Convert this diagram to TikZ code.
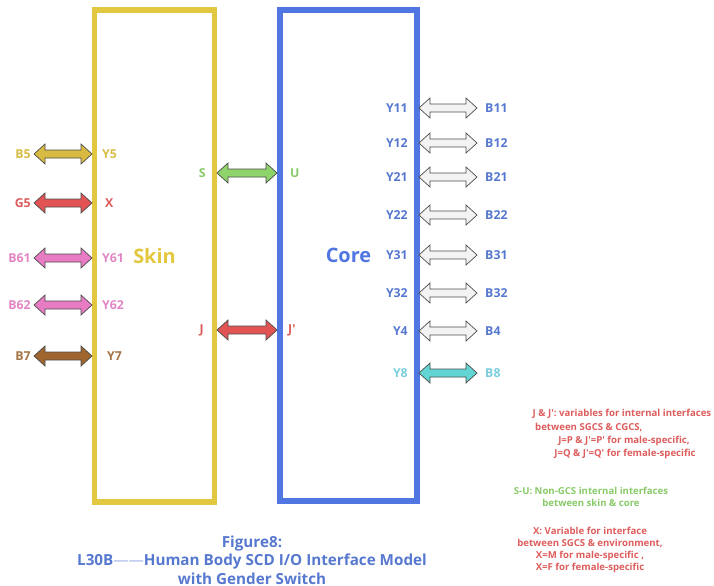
\documentclass[tikz,border=0pt]{standalone}
\usepackage{fontspec}
\setmainfont{Open Sans}
\usepackage{tikz}
\usetikzlibrary{calc}

\definecolor{skinyel}{RGB}{227,199,62}
\definecolor{coreblue}{RGB}{80,118,226}
\definecolor{lblblue}{RGB}{86,120,206}
\definecolor{yelfill}{RGB}{216,186,66}
\definecolor{yeltxt}{RGB}{216,188,70}
\definecolor{redfill}{RGB}{226,84,84}
\definecolor{redtxt}{RGB}{222,92,92}
\definecolor{pinkfill}{RGB}{232,124,196}
\definecolor{pinktxt}{RGB}{226,132,196}
\definecolor{brownfill}{RGB}{160,100,46}
\definecolor{browntxt}{RGB}{164,116,70}
\definecolor{greenfill}{RGB}{142,212,106}
\definecolor{greentxt}{RGB}{136,202,104}
\definecolor{tealfill}{RGB}{98,212,212}
\definecolor{tealtxt}{RGB}{120,206,220}
\definecolor{greyfill}{RGB}{243,243,243}

\newcommand{\sq}{\textquotesingle}
\newcommand{\ioarrow}[3]{%
  \filldraw[fill=#1,draw=black!70,line width=0.6pt,line join=miter]
    (#2) -- ($(#2)+(11,-10)$) -- ($(#2)+(11,-4)$) -- ($(#3)+(-11,-4)$)
    -- ($(#3)+(-11,-10)$) -- (#3) -- ($(#3)+(-11,10)$) -- ($(#3)+(-11,4)$)
    -- ($(#2)+(11,4)$) -- ($(#2)+(11,10)$) -- cycle;}

\begin{document}
\begin{tikzpicture}[x=0.03cm,y=-0.03cm,
    lbl/.style={font=\bfseries\fontsize{10.5}{12}\selectfont,inner sep=0pt},
    note/.style={font=\bfseries\fontsize{8.2}{10.3}\selectfont,inner sep=0pt},
    box/.style={draw,line width=5pt,font=\bfseries\fontsize{17}{20}\selectfont,inner sep=0pt}]
  \useasboundingbox (0,0) rectangle (714,586);
  \node[box,draw=skinyel,text=skinyel,minimum width=3.6cm,minimum height=14.76cm] (skin) at (154.5,256) {Skin};
  \node[box,draw=coreblue,text=coreblue,minimum width=4.11cm,minimum height=14.73cm] (core) at (348.5,255.5) {Core};
  % skin to environment
  \foreach \lab/\rab/\yy/\rx/\fc/\tc in {B5/Y5/154/102/yelfill/yeltxt,G5/X/203/105/redfill/redtxt,
      B61/Y61/258/102/pinkfill/pinktxt,B62/Y62/305/102/pinkfill/pinktxt,B7/Y7/356/107/brownfill/browntxt}{
    \node[lbl,text=\tc,anchor=east] (\lab) at (31,\yy) {\lab};
    \node[lbl,text=\tc,anchor=west] (\rab) at (\rx,\yy) {\rab};
    \coordinate (\lab-e) at (34,\yy);
    \coordinate (\rab-e) at (92,\yy);
    \ioarrow{\fc}{\lab-e}{\rab-e}
  }
  % skin to core
  \node[lbl,text=greentxt,anchor=east] (S) at (206,173) {S};
  \node[lbl,text=greentxt,anchor=west] (U) at (290,173) {U};
  \coordinate (S-e) at (217,173);
  \coordinate (U-e) at (277,173);
  \ioarrow{greenfill}{S-e}{U-e}
  \node[lbl,text=redtxt,anchor=east] (J) at (204,330) {J};
  \node[lbl,text=redtxt,anchor=west] (Jp) at (288,330) {J\sq};
  \coordinate (J-e) at (217,330);
  \coordinate (Jp-e) at (277,330);
  \ioarrow{redfill}{J-e}{Jp-e}
  % core to environment
  \foreach \lab/\rab/\yy/\fc/\tc in {Y11/B11/108/greyfill/lblblue,Y12/B12/143/greyfill/lblblue,
      Y21/B21/177/greyfill/lblblue,Y22/B22/215/greyfill/lblblue,Y31/B31/255/greyfill/lblblue,
      Y32/B32/293/greyfill/lblblue,Y4/B4/331/greyfill/lblblue,Y8/B8/373/tealfill/tealtxt}{
    \node[lbl,text=\tc,anchor=east] (\lab) at (408,\yy) {\lab};
    \node[lbl,text=\tc,anchor=west] (\rab) at (485,\yy) {\rab};
    \coordinate (\lab-e) at (419,\yy);
    \coordinate (\rab-e) at (477,\yy);
    \ioarrow{\fc}{\lab-e}{\rab-e}
  }
  \node[note,text=redtxt] (n1) at (622,414) {J \& J\sq: variables for internal interfaces};
  \node[note,text=redtxt,anchor=west] (n2) at (535,427) {between SGCS \& CGCS,};
  \node[note,text=redtxt] (n3) at (624,441) {J=P \& J\sq=P\sq{} for male-specific,};
  \node[note,text=redtxt] (n4) at (625,454) {J=Q \& J\sq=Q\sq{} for female-specific};
  \node[note,text=greentxt,align=center] (n5) at (591,497) {S-U: Non-GCS internal interfaces\\between skin \& core};
  \node[note,text=redtxt,align=center] (n6) at (590,550) {X: Variable for interface\\between SGCS \& environment,\\X=M for male-specific ,\\X=F for female-specific};
  \node[text=lblblue,align=center,font=\bfseries\fontsize{13}{15.7}\selectfont,inner sep=0pt] (title) at (252,560)
    {Figure8:\\L30B\textcolor{lblblue!55}{\mdseries——}Human Body SCD I/O Interface Model\\with Gender Switch};
\end{tikzpicture}
\end{document}
